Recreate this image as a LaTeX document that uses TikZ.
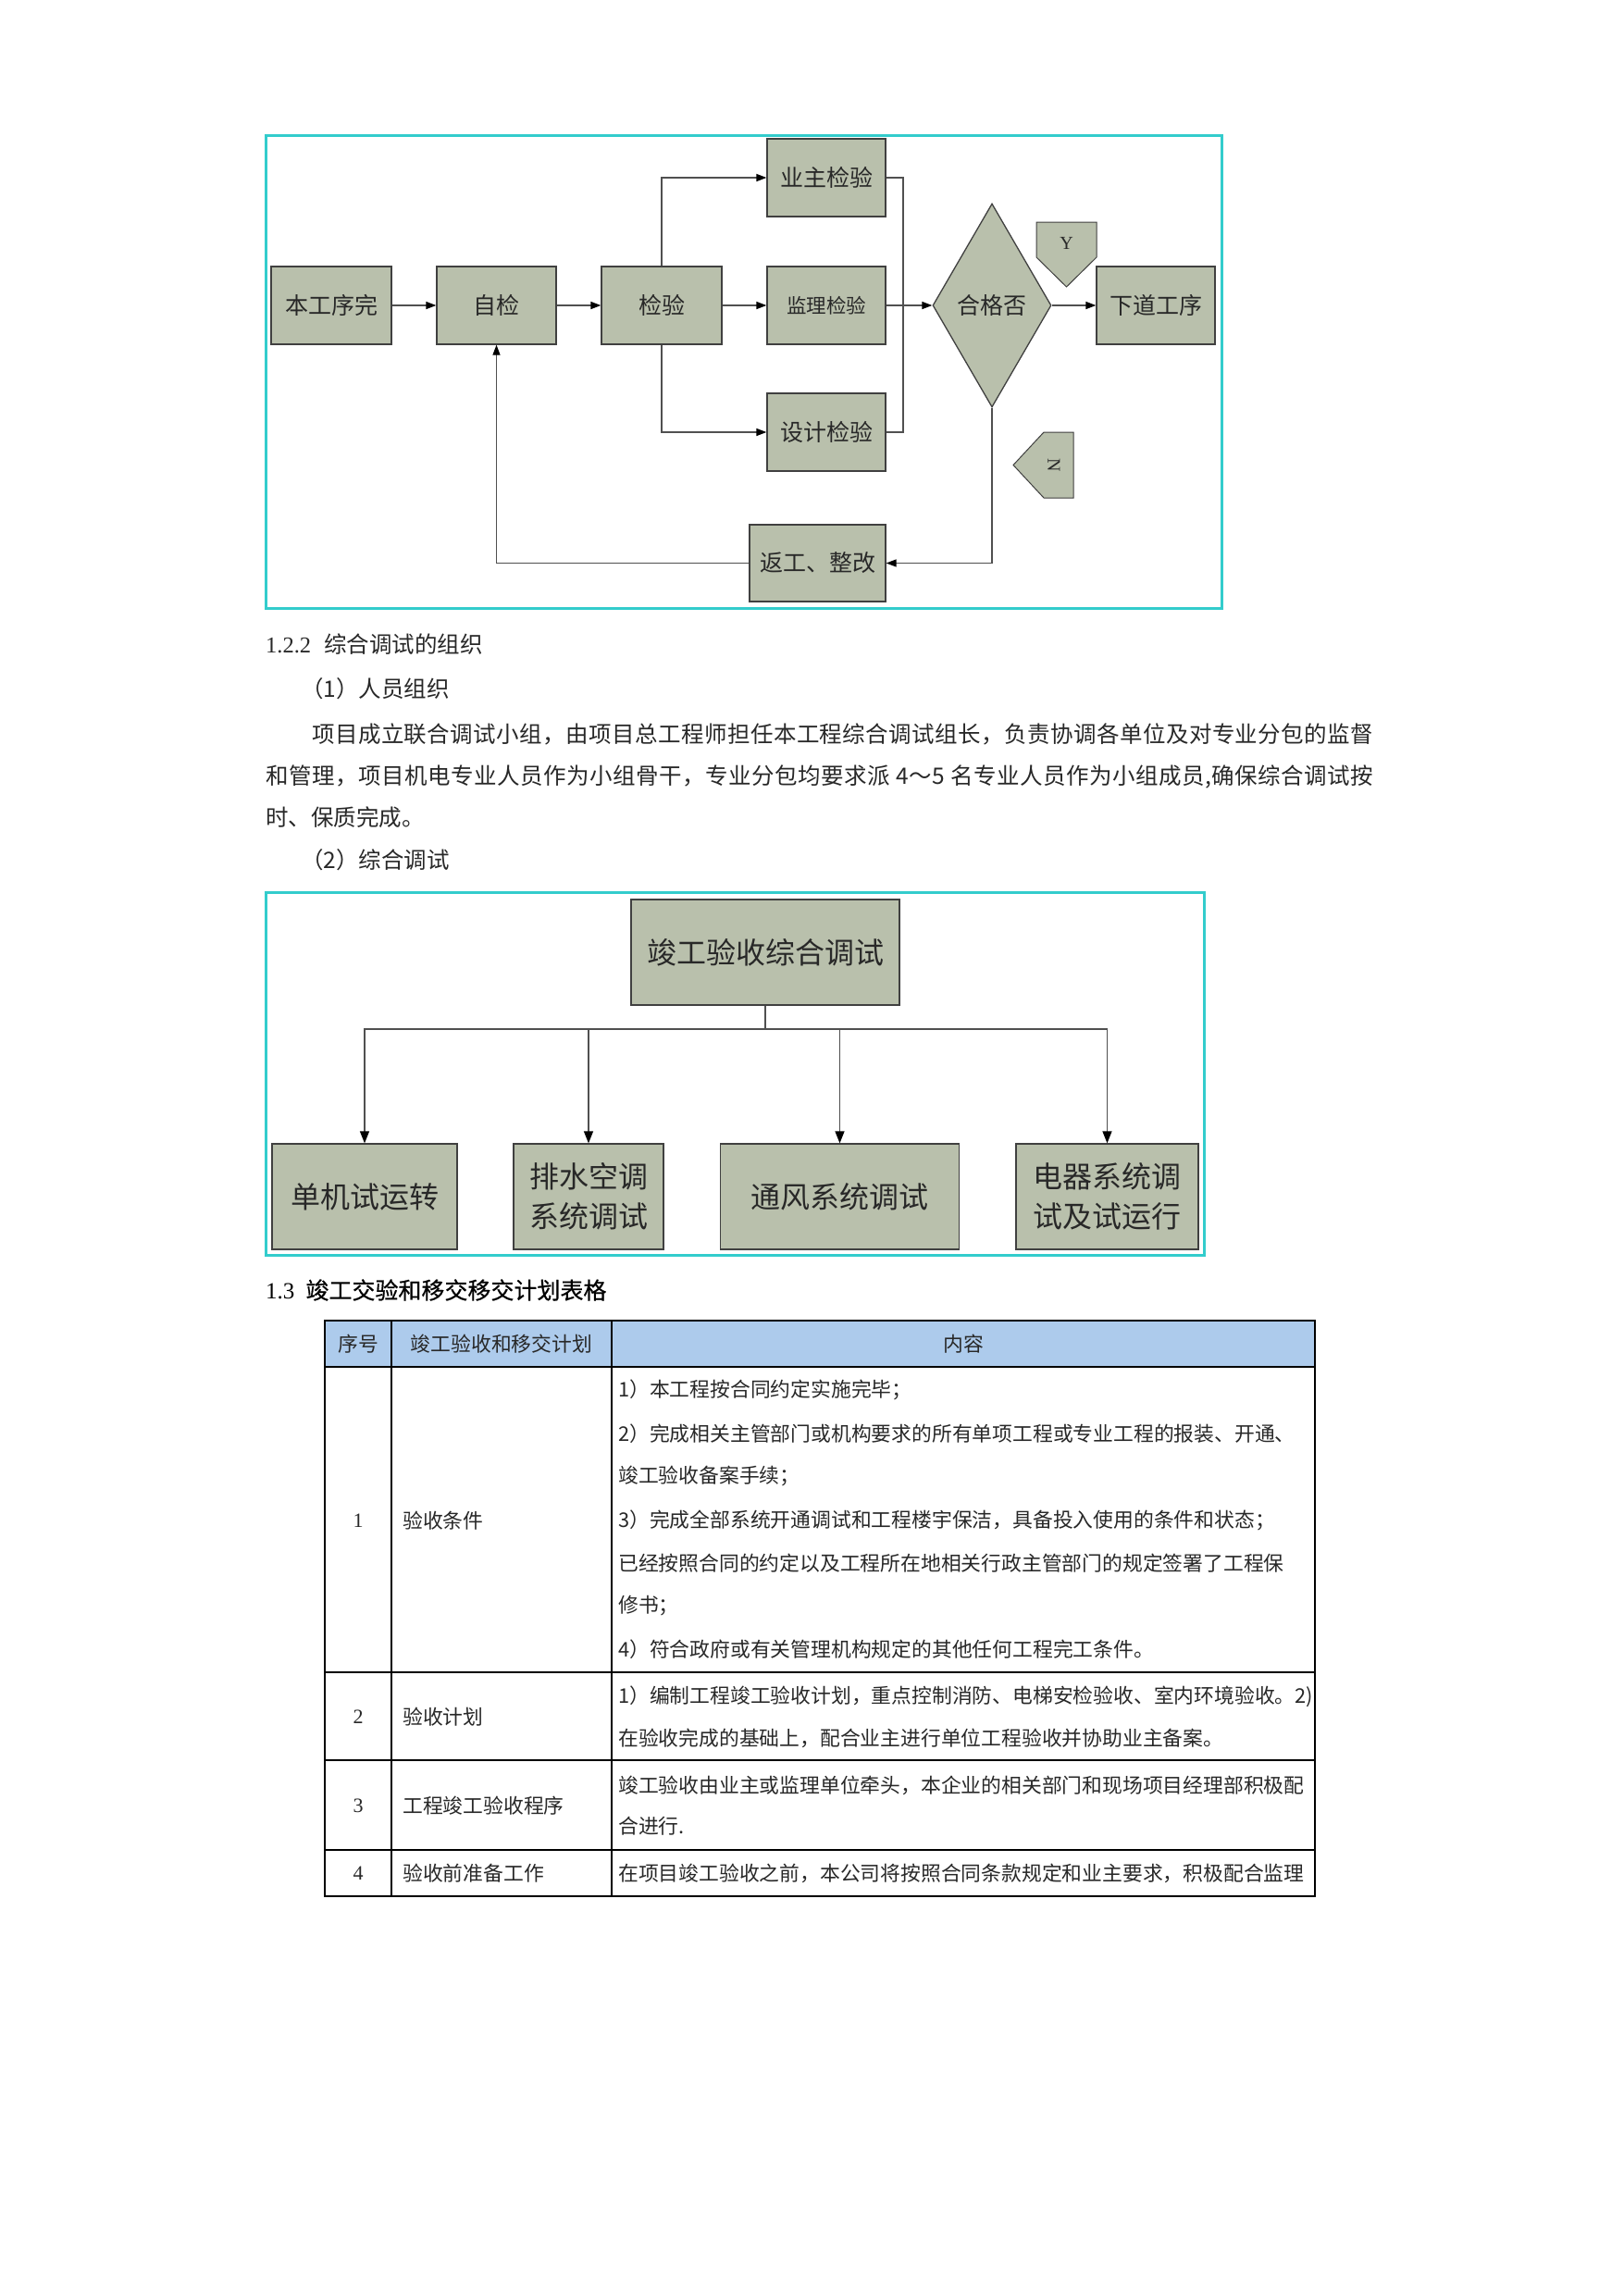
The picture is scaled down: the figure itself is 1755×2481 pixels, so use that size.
\documentclass[tikz,border=0pt]{standalone}
\usepackage{fontspec}
\setmainfont{Noto Sans CJK SC}
\newfontfamily\lat{Liberation Serif}
\newfontfamily\hfont[FakeBold=0.6]{Noto Sans CJK SC}
\usetikzlibrary{arrows.meta,shapes.geometric}
\definecolor{frame}{RGB}{51,204,204}
\definecolor{boxfill}{RGB}{185,192,172}
\definecolor{boxline}{RGB}{64,64,64}
\definecolor{connc}{RGB}{80,80,80}
\definecolor{hdr}{RGB}{173,203,236}
\definecolor{txt}{RGB}{40,40,40}
\def\sprd#1{\ifx\relax#1\unskip\else#1\hfil\expandafter\sprd\fi}
\begin{document}
\begin{tikzpicture}[x=1pt,y=-1pt,
  gbox/.style={draw=boxline, fill=boxfill, line width=1.3pt, inner sep=0pt, text=txt, align=center},
  conn/.style={draw=connc, line width=1.3pt},
  arr/.style={conn, -{Triangle[length=11pt,width=8pt,color=black]}},
  arrb/.style={conn, -{Triangle[length=13pt,width=10pt,color=black]}},
  cyanframe/.style={draw=frame, line width=3pt},
  fa/.style={font=\fontsize{25}{30}\selectfont},
  fb/.style={font=\fontsize{32}{43}\selectfont},
  body/.style={anchor=west, inner sep=0pt, text=txt, font=\fontsize{24.5}{30}\selectfont},
  tcell/.style={anchor=west, inner sep=0pt, text=txt, font=\fontsize{21.8}{26}\selectfont},
  tcenter/.style={inner sep=0pt, text=txt, font=\fontsize{21.8}{26}\selectfont},
]
\useasboundingbox (0,0) rectangle (1755,2481);
\fill[white] (0,0) rectangle (1755,2481);

% ---------- flowchart 1 ----------
\draw[cyanframe] (287,146) rectangle (1320,657);
\node[gbox, fa, minimum width=130pt, minimum height=84pt] (a) at (358,330) {本工序完};
\node[gbox, fa, minimum width=129pt, minimum height=84pt] (b) at (536.5,330) {自检};
\node[gbox, fa, minimum width=130pt, minimum height=84pt] (c) at (715,330) {检验};
\node[gbox, fa, minimum width=128pt, minimum height=84pt] (yz) at (893,192) {业主检验};
\node[gbox, font=\fontsize{21.5}{26}\selectfont, minimum width=128pt, minimum height=84pt] (jl) at (893,330) {监理检验};
\node[gbox, fa, minimum width=128pt, minimum height=84pt] (sj) at (893,467) {设计检验};
\node[gbox, diamond, fa, minimum width=128pt, minimum height=220pt] (dia) at (1072,330) {合格否};
\node[gbox, fa, minimum width=128pt, minimum height=84pt] (xd) at (1249,330) {下道工序};
\node[gbox, fa, minimum width=147pt, minimum height=83pt] (fg) at (883.5,608.5) {返工、整改};

\draw[draw=boxline, fill=boxfill, line width=1pt] (1120,240) -- (1185,240) -- (1185,278) -- (1152.5,310) -- (1120,278) -- cycle;
\node[inner sep=0pt, text=txt, font=\lat\fontsize{20}{22}\selectfont] (ylab) at (1152.5,263) {Y};
\draw[draw=boxline, fill=boxfill, line width=1pt] (1160,467) -- (1160,538) -- (1128,538) -- (1095,502.5) -- (1128,467) -- cycle;
\node[inner sep=0pt, text=txt, rotate=-90, font=\lat\fontsize{20}{22}\selectfont] (nlab) at (1139,502.5) {N};

\coordinate (m) at (976,330);
\draw[arr] (a) -- (b);
\draw[arr] (b) -- (c);
\draw[arr] (c) -- (jl);
\draw[arr] (c.north) |- (yz.west);
\draw[arr] (c.south) |- (sj.west);
\draw[conn] (yz.east) -| (m);
\draw[conn] (sj.east) -| (m);
\draw[arr] (jl.east) -- (dia.west);
\draw[arr] (dia.east) -- (xd.west);
\draw[arr] (dia.south) |- (fg.east);
\draw[arr] (fg.west) -| (b.south);

% ---------- text ----------
\node[body] (h122) at (287,696) {{\lat 1.2.2}\hspace{14pt}综合调试的组织};
\node[body] (s1) at (325,744) {（1）人员组织};
\node[body] (p1) at (337,793) {\hbox to 1147pt{\sprd 项目成立联合调试小组，由项目总工程师担任本工程综合调试组长，负责协调各单位及对专业分包的监督\relax}};
\node[body] (p2) at (287,839) {\hbox to 1197pt{\sprd 和管理，项目机电专业人员作为小组骨干，专业分包均要求派\ 4～5\ 名专业人员作为小组成员,确保综合调试按\relax}};
\node[body] (p3) at (287,883) {时、保质完成。};
\node[body] (s2) at (325,929) {（2）综合调试};

% ---------- flowchart 2 ----------
\draw[cyanframe] (287,964) rectangle (1301,1356);
\node[gbox, fb, minimum width=290pt, minimum height=114pt] (top) at (827,1029) {竣工验收综合调试};
\node[gbox, fb, minimum width=200pt, minimum height=114pt] (k1) at (394,1293) {单机试运转};
\node[gbox, fb, minimum width=162pt, minimum height=114pt] (k2) at (636,1293) {排水空调\\系统调试};
\node[gbox, fb, minimum width=258pt, minimum height=114pt] (k3) at (907.5,1293) {通风系统调试};
\node[gbox, fb, minimum width=197pt, minimum height=114pt] (k4) at (1196.5,1293) {电器系统调\\试及试运行};
\coordinate (bus) at (827,1112);
\draw[conn, line width=2pt] (top.south) -- (bus);
\foreach \k in {k1,k2,k3,k4} \draw[arrb] (bus) -| (\k.north);

% ---------- table ----------
\node[anchor=west, inner sep=0pt, text=black, font=\hfont\fontsize{25}{30}\selectfont] (h13) at (287,1394) {{\lat 1.3}\hspace{12pt}竣工交验和移交移交计划表格};
\fill[hdr] (351,1427) rectangle (1421,1477);
\draw[line width=1.5pt] (351,1427) rectangle (1421,2049);
\foreach \yy in {1477,1807,1902,1999} \draw[line width=1.5pt] (351,\yy) -- (1421,\yy);
\foreach \xx in {423,661} \draw[line width=1.5pt] (\xx,1427) -- (\xx,2049);

\node[tcenter] (t01) at (387,1452) {序号};
\node[tcenter] (t02) at (542,1452) {竣工验收和移交计划};
\node[tcenter] (t03) at (1041,1452) {内容};

\node[tcenter, font=\lat\fontsize{22}{26}\selectfont] (n1) at (387,1643) {1};
\node[tcell] (c1) at (435,1643) {验收条件};
\node[tcell] (r11) at (668,1502) {1）本工程按合同约定实施完毕；};
\node[tcell] (r12) at (668,1549) {2）完成相关主管部门或机构要求的所有单项工程或专业工程的报装、开通、};
\node[tcell] (r13) at (668,1595) {竣工验收备案手续；};
\node[tcell] (r14) at (668,1643) {3）完成全部系统开通调试和工程楼宇保洁，具备投入使用的条件和状态；};
\node[tcell] (r15) at (668,1689) {已经按照合同的约定以及工程所在地相关行政主管部门的规定签署了工程保};
\node[tcell] (r16) at (668,1735) {修书；};
\node[tcell] (r17) at (668,1782) {4）符合政府或有关管理机构规定的其他任何工程完工条件。};

\node[tcenter, font=\lat\fontsize{22}{26}\selectfont] (n2) at (387,1855) {2};
\node[tcell] (c2) at (435,1855) {验收计划};
\node[tcell] (r21) at (668,1833) {1）编制工程竣工验收计划，重点控制消防、电梯安检验收、室内环境验收。2)};
\node[tcell] (r22) at (668,1878) {在验收完成的基础上，配合业主进行单位工程验收并协助业主备案。};

\node[tcenter, font=\lat\fontsize{22}{26}\selectfont] (n3) at (387,1951) {3};
\node[tcell] (c3) at (435,1951) {工程竣工验收程序};
\node[tcell] (r31) at (668,1929) {竣工验收由业主或监理单位牵头，本企业的相关部门和现场项目经理部积极配};
\node[tcell] (r32) at (668,1973) {合进行.};

\node[tcenter, font=\lat\fontsize{22}{26}\selectfont] (n4) at (387,2024) {4};
\node[tcell] (c4) at (435,2024) {验收前准备工作};
\node[tcell] (r41) at (668,2024) {在项目竣工验收之前，本公司将按照合同条款规定和业主要求，积极配合监理};
\end{tikzpicture}
\end{document}
